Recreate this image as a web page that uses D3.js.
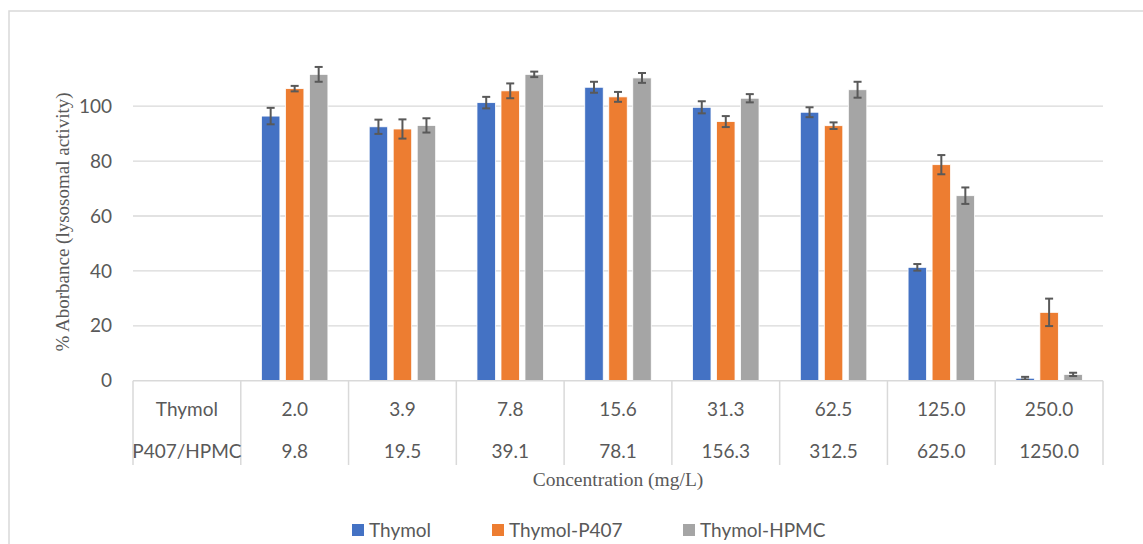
<!DOCTYPE html>
<html>
<head>
<meta charset="utf-8">
<script src="https://cdn.jsdelivr.net/npm/d3@7"></script>
<style>
  html, body { margin: 0; padding: 0; background: #fff; }
  svg { display: block; }
</style>
</head>
<body>
<svg id="chart" width="1143" height="544"></svg>
<script>
// ---- data ----
const categories = ["", "2.0", "3.9", "7.8", "15.6", "31.3", "62.5", "125.0", "250.0"];
const rowHeaders = ["Thymol", "P407/HPMC"];
const thymolConc = ["2.0", "3.9", "7.8", "15.6", "31.3", "62.5", "125.0", "250.0"];
const polymerConc = ["9.8", "19.5", "39.1", "78.1", "156.3", "312.5", "625.0", "1250.0"];
const seriesNames = ["Thymol", "Thymol-P407", "Thymol-HPMC"];
const thymol      = [96.4, 92.5, 101.3, 106.9, 99.6, 97.8, 41.3, 0.9];
const thymolP407  = [106.4, 91.7, 105.6, 103.4, 94.4, 92.9, 78.7, 24.9];
const thymolHPMC  = [111.6, 93.0, 111.6, 110.3, 102.9, 106.0, 67.4, 2.3];
const thymolErr     = [3.0, 2.6, 2.1, 2.0, 2.2, 1.8, 1.2, 0.5];
const thymolP407Err = [1.0, 3.5, 2.7, 1.8, 2.0, 1.2, 3.5, 5.0];
const thymolHPMCErr = [2.7, 2.6, 1.0, 1.8, 1.5, 2.9, 3.0, 0.6];
const yTicks = [0, 20, 40, 60, 80, 100];
const colors = ["#4472C4", "#ED7D31", "#A5A5A5"];

const values = [thymol, thymolP407, thymolHPMC];
const errors = [thymolErr, thymolP407Err, thymolHPMCErr];

// ---- layout ----
const svg = d3.select("#chart");
const left = 133, right = 1103, top0 = 51.3, bottom0 = 380.7;
const textGray = "#595959";
const sans = "Lato, 'Open Sans', sans-serif";
const serif = "'Liberation Serif', 'Times New Roman', serif";

// outer chart border
svg.append("rect")
  .attr("x", 9).attr("y", 11).attr("width", 1150).attr("height", 560)
  .attr("fill", "none").attr("stroke", "#d9d9d9").attr("stroke-width", 1.5);

const x = d3.scaleBand().domain(categories).range([left, right]).padding(0);
const y = d3.scaleLinear().domain([0, 120]).range([bottom0, top0]);
const xs = d3.scaleBand().domain(seriesNames).range([-33.25, 33.25]).paddingInner(0.23).paddingOuter(0);

// gridlines
svg.append("g").selectAll("line").data(yTicks.filter(d => d > 0)).join("line")
  .attr("x1", left).attr("x2", right)
  .attr("y1", d => y(d)).attr("y2", d => y(d))
  .attr("stroke", "#d9d9d9").attr("stroke-width", 1.3);

// y tick labels
svg.append("g").selectAll("text").data(yTicks).join("text")
  .attr("x", 112).attr("y", d => y(d) + 6.6)
  .attr("text-anchor", "end")
  .attr("font-family", sans).attr("font-size", 19).attr("fill", textGray)
  .text(d => d);

// y axis title
svg.append("text")
  .attr("transform", `translate(69,${222}) rotate(-90)`)
  .attr("text-anchor", "middle")
  .attr("font-family", serif).attr("font-size", 19).attr("fill", textGray)
  .text("% Aborbance (lysosomal activity)");

// bars
const dataCats = categories.slice(1);
const barG = svg.append("g");
seriesNames.forEach((s, si) => {
  const recs = dataCats.map((c, i) => ({ c, v: values[si][i], e: errors[si][i] }));
  const cx = d => x(d.c) + x.bandwidth() / 2 + xs(s);
  barG.append("g").selectAll("rect").data(recs).join("rect")
    .attr("x", cx)
    .attr("y", d => y(d.v))
    .attr("width", xs.bandwidth())
    .attr("height", d => y(0) - y(d.v))
    .attr("fill", colors[si])
    .attr("stroke", "#fff").attr("stroke-width", 0.8);
  const eg = barG.append("g").attr("stroke", "#595959").attr("stroke-width", 2);
  const mid = d => cx(d) + xs.bandwidth() / 2;
  eg.selectAll("line.v").data(recs).join("line").attr("class", "v")
    .attr("x1", mid).attr("x2", mid)
    .attr("y1", d => y(d.v + d.e)).attr("y2", d => y(Math.max(0, d.v - d.e)));
  eg.selectAll("line.t").data(recs).join("line").attr("class", "t")
    .attr("x1", d => mid(d) - 4).attr("x2", d => mid(d) + 4)
    .attr("y1", d => y(d.v + d.e)).attr("y2", d => y(d.v + d.e));
  eg.selectAll("line.b").data(recs).join("line").attr("class", "b")
    .attr("x1", d => mid(d) - 4).attr("x2", d => mid(d) + 4)
    .attr("y1", d => y(Math.max(0, d.v - d.e))).attr("y2", d => y(Math.max(0, d.v - d.e)));
});

// data table / axis
const tableBottom = 465;
const tg = svg.append("g").attr("stroke", "#d9d9d9").attr("stroke-width", 1.5);
tg.append("line").attr("x1", left).attr("x2", right).attr("y1", y(0)).attr("y2", y(0));
const edges = categories.map(c => x(c)).concat([right]);
tg.selectAll("line.vl").data(edges).join("line").attr("class", "vl")
  .attr("x1", d => d).attr("x2", d => d)
  .attr("y1", y(0)).attr("y2", tableBottom);

const rows = [
  [rowHeaders[0]].concat(thymolConc),
  [rowHeaders[1]].concat(polymerConc)
];
const rowY = [416, 458];
rows.forEach((r, ri) => {
  svg.append("g").selectAll("text").data(r).join("text")
    .attr("x", (d, i) => x(categories[i]) + x.bandwidth() / 2)
    .attr("y", rowY[ri])
    .attr("text-anchor", "middle")
    .attr("font-family", sans).attr("font-size", 19).attr("fill", textGray)
    .text(d => d);
});

// x axis title
svg.append("text")
  .attr("x", (left + right) / 2).attr("y", 486)
  .attr("text-anchor", "middle")
  .attr("font-family", serif).attr("font-size", 19.5).attr("fill", textGray)
  .text("Concentration (mg/L)");

// legend
const legendX = [352, 492, 683];
const lg = svg.append("g");
seriesNames.forEach((s, i) => {
  lg.append("rect").attr("x", legendX[i]).attr("y", 524).attr("width", 12).attr("height", 12)
    .attr("fill", colors[i]);
  lg.append("text").attr("x", legendX[i] + 17).attr("y", 536.5)
    .attr("font-family", sans).attr("font-size", 19).attr("fill", textGray)
    .text(s);
});
</script>
</body>
</html>
